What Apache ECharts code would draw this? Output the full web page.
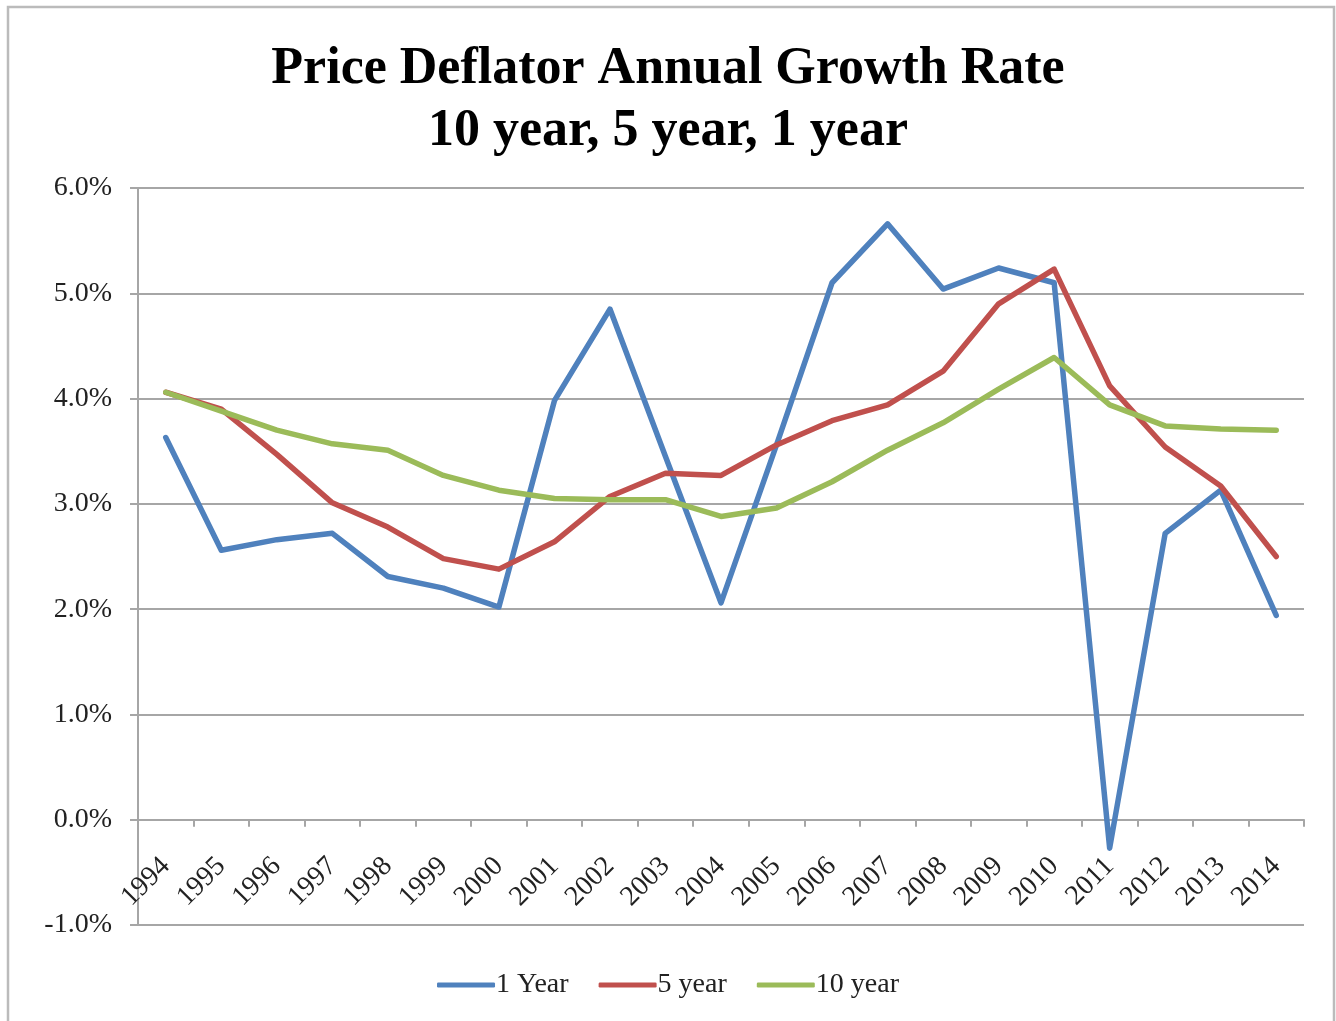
<!DOCTYPE html>
<html>
<head>
<meta charset="utf-8">
<script src="https://cdn.jsdelivr.net/npm/echarts@6/dist/echarts.min.js"></script>
<style>
html,body{margin:0;padding:0;background:#fff;}
#chart{width:1336px;height:1021px;}
</style>
</head>
<body>
<div id="chart"></div>
<script>
const years = ['1994','1995','1996','1997','1998','1999','2000','2001','2002','2003','2004','2005','2006','2007','2008','2009','2010','2011','2012','2013','2014'];
const oneYear = [3.63,2.56,2.66,2.72,2.31,2.20,2.02,3.98,4.85,3.45,2.06,3.56,5.10,5.66,5.04,5.24,5.10,-0.27,2.72,3.13,1.94];
const fiveYear = [4.06,3.90,3.47,3.01,2.78,2.48,2.38,2.64,3.07,3.29,3.27,3.56,3.79,3.94,4.26,4.90,5.23,4.12,3.54,3.17,2.50];
const tenYear = [4.06,3.88,3.70,3.57,3.51,3.27,3.13,3.05,3.04,3.04,2.88,2.96,3.21,3.51,3.77,4.09,4.39,3.94,3.74,3.71,3.70];
const seriesNames = ['1 Year','5 year','10 year'];
const colors = ['#4F81BD','#C0504D','#9BBB59'];

const font = "'Liberation Serif', 'DejaVu Serif', serif";
const chart = echarts.init(document.getElementById('chart'), null, {renderer:'canvas'});
const mk = (name, data, color) => ({
  name, type:'line', data, symbol:'none', smooth:false,
  lineStyle:{color, width:5.5, cap:'round', join:'round'},
  itemStyle:{color}
});
chart.setOption({
  animation:false,
  backgroundColor:'#fff',
  graphic:[{
    type:'rect', shape:{x:8, y:7, width:1326, height:1030},
    style:{fill:'none', stroke:'#bbbbbb', lineWidth:2.5}, silent:true
  }],
  title:{
    text:'Price Deflator Annual Growth Rate\n10 year, 5 year, 1 year',
    left:'center', top:34,
    textStyle:{fontFamily:font, fontWeight:'bold', fontSize:52, lineHeight:62, color:'#000'}
  },
  legend:{
    top:966, left:'center', itemWidth:58, itemHeight:5, itemGap:30,
    icon:'roundRect',
    textStyle:{fontFamily:font, fontSize:28, color:'#222', padding:[0,0,0,-4]},
    data:seriesNames
  },
  grid:{left:138, right:32, top:188, bottom:96, containLabel:false},
  xAxis:{
    type:'category', data:years, boundaryGap:true,
    axisLine:{onZero:true, lineStyle:{color:'#a6a6a6', width:2}},
    axisTick:{show:true, alignWithLabel:false, length:7, inside:false, lineStyle:{color:'#a6a6a6', width:2}},
    axisLabel:{rotate:45, margin:-63, fontFamily:font, fontSize:28, color:'#222', interval:0}
  },
  yAxis:{
    type:'value', min:-1, max:6, interval:1,
    axisLine:{show:true, lineStyle:{color:'#a6a6a6', width:2}},
    axisTick:{show:true, length:8, lineStyle:{color:'#a6a6a6', width:2}},
    splitLine:{show:true, lineStyle:{color:'#a6a6a6', width:2}},
    axisLabel:{margin:26, fontFamily:font, fontSize:28, color:'#222', formatter:v => v.toFixed(1)+'%'}
  },
  series:[mk(seriesNames[0], oneYear, colors[0]), mk(seriesNames[1], fiveYear, colors[1]), mk(seriesNames[2], tenYear, colors[2])]
});
</script>
</body>
</html>
